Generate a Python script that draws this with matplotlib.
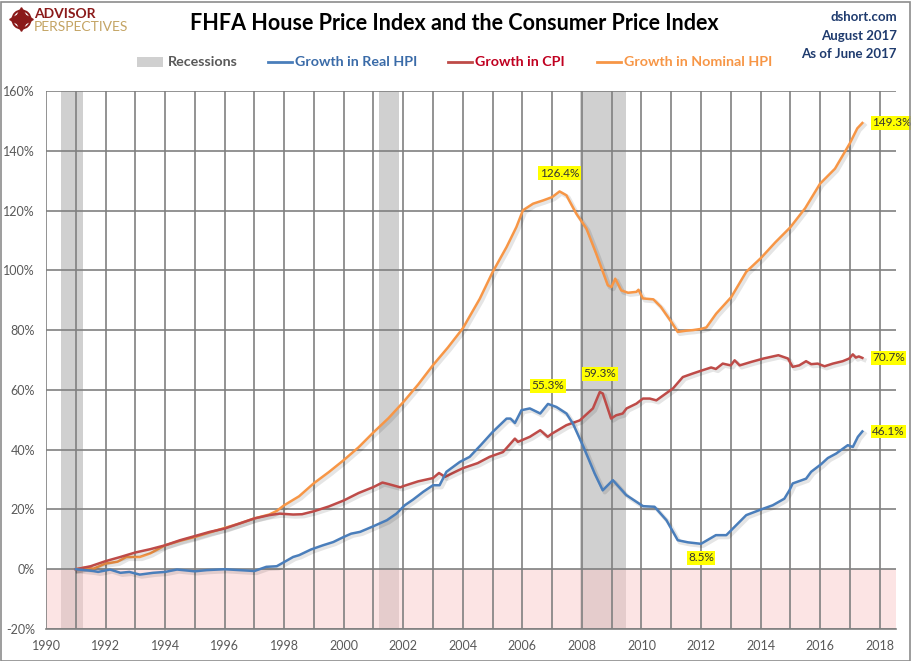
import matplotlib
matplotlib.use("Agg")
import matplotlib.pyplot as plt
import matplotlib.patheffects as pe
from matplotlib.lines import Line2D
from matplotlib.patches import Rectangle

# ---- data (decimal years) ----
nominal_x = [1991.0, 1991.3, 1991.6, 1992.0, 1992.4, 1992.7, 1993.15, 1993.5, 1994.0, 1994.5,
             1995.0, 1995.5, 1996.0, 1996.5, 1997.0, 1997.5, 1997.75, 1998.0, 1998.5, 1999.0,
             1999.5, 2000.0, 2000.5, 2001.0, 2001.5, 2002.0, 2002.5, 2003.0, 2003.5, 2004.0,
             2004.57, 2005.0, 2005.47, 2005.8, 2006.02, 2006.36, 2006.7, 2007.0, 2007.25, 2007.48,
             2007.81, 2008.15, 2008.48, 2008.87, 2008.99, 2009.12, 2009.32, 2009.55, 2009.83, 2009.9,
             2010.05, 2010.4, 2010.65, 2011.0, 2011.22, 2011.5, 2011.73, 2012.0, 2012.18, 2012.51,
             2013.02, 2013.52, 2014.02, 2014.5, 2015.0, 2015.5, 2016.0, 2016.5, 2017.0, 2017.25,
             2017.42]
nominal_y = [0.0, 0.5, 0.2, 1.9, 2.5, 4.1, 4.1, 5.3, 8.0, 9.5,
             10.8, 12.3, 13.8, 15.3, 17.0, 18.3, 19.5, 21.4, 24.4, 28.8,
             32.5, 36.5, 40.8, 45.8, 50.5, 55.9, 61.8, 68.3, 74.2, 80.6,
             90.5, 99.4, 107.8, 114.5, 120.1, 122.3, 123.4, 124.5, 126.4, 125.1,
             119.0, 114.0, 105.6, 95.0, 94.4, 97.2, 93.3, 92.5, 92.8, 93.5,
             90.6, 90.3, 87.8, 82.8, 79.4, 79.8, 80.0, 80.4, 80.9, 85.5,
             91.1, 99.5, 104.2, 109.4, 114.4, 120.8, 129.0, 134.0, 142.5, 147.5,
             149.3]

real_x = [1991.0, 1991.3, 1991.6, 1991.75, 1992.15, 1992.5, 1992.8, 1993.15, 1993.6, 1994.0,
          1994.4, 1995.0, 1995.4, 1996.0, 1996.5, 1997.0, 1997.4, 1997.75, 1998.0, 1998.3,
          1998.5, 1998.9, 1999.3, 1999.65, 2000.0, 2000.25, 2000.55, 2001.0, 2001.45, 2001.77,
          2002.05, 2002.33, 2002.67, 2003.0, 2003.22, 2003.45, 2003.9, 2004.23, 2004.6, 2005.0,
          2005.47, 2005.6, 2005.75, 2005.97, 2006.25, 2006.6, 2006.86, 2007.14, 2007.48, 2007.7,
          2008.05, 2008.43, 2008.7, 2009.04, 2009.49, 2010.05, 2010.44, 2010.84, 2011.22, 2011.56,
          2012.0, 2012.5, 2012.85, 2013.13, 2013.52, 2014.02, 2014.41, 2014.8, 2014.97, 2015.08,
          2015.53, 2015.7, 2016.03, 2016.26, 2016.54, 2016.93, 2017.1, 2017.27, 2017.42]
real_y = [0.0, -0.3, -0.6, -0.9, -0.1, -1.2, -0.9, -1.8, -1.2, -0.9,
          -0.1, -0.7, -0.3, 0.0, -0.3, -0.6, 0.8, 1.0, 2.4, 4.1,
          4.7, 6.6, 8.0, 9.1, 10.8, 11.9, 12.5, 14.4, 16.4, 18.6,
          21.4, 23.3, 25.9, 28.1, 28.1, 32.6, 35.9, 37.6, 41.5, 45.9,
          50.4, 50.4, 48.9, 53.2, 53.8, 52.1, 55.3, 54.3, 52.1, 48.7,
          41.0, 32.0, 26.4, 29.8, 24.8, 21.1, 20.9, 16.4, 9.7, 9.0,
          8.5, 11.4, 11.4, 14.2, 18.1, 20.0, 21.4, 23.6, 26.4, 28.7,
          30.3, 32.6, 35.1, 37.2, 38.7, 41.5, 40.9, 44.3, 46.1]

cpi_x = [1991.0, 1991.5, 1992.0, 1992.5, 1993.0, 1993.5, 1994.0, 1994.5, 1995.0, 1995.5,
         1996.0, 1996.5, 1997.0, 1997.5, 1997.85, 1998.3, 1998.6, 1999.0, 1999.5, 2000.0,
         2000.5, 2001.0, 2001.3, 2001.5, 2001.9, 2002.0, 2002.5, 2003.0, 2003.2, 2003.4,
         2004.0, 2004.5, 2004.9, 2005.35, 2005.75, 2005.85, 2006.25, 2006.6, 2006.85, 2007.0,
         2007.48, 2007.93, 2008.37, 2008.6, 2008.7, 2008.98, 2009.15, 2009.37, 2009.5, 2009.83,
         2010.05, 2010.28, 2010.5, 2011.06, 2011.39, 2011.73, 2012.06, 2012.34, 2012.5, 2012.73,
         2013.0, 2013.13, 2013.3, 2013.7, 2014.1, 2014.6, 2014.92, 2015.08, 2015.3, 2015.53,
         2015.7, 2015.92, 2016.15, 2016.43, 2016.76, 2016.98, 2017.1, 2017.2, 2017.3, 2017.42]
cpi_y = [0.0, 1.0, 2.7, 4.1, 5.6, 6.7, 8.0, 9.7, 11.1, 12.5,
         13.6, 15.3, 17.0, 18.1, 18.6, 18.3, 18.4, 19.4, 21.0, 23.0,
         25.5, 27.5, 29.0, 28.5, 27.4, 27.8, 29.4, 30.5, 32.2, 30.9,
         33.8, 35.5, 37.6, 39.2, 43.7, 42.6, 44.3, 46.5, 44.3, 45.4,
         48.2, 49.8, 53.8, 59.3, 58.8, 50.4, 51.5, 52.1, 53.8, 55.4,
         57.1, 57.1, 56.5, 60.5, 64.3, 65.5, 66.6, 67.5, 67.0, 68.8,
         68.2, 69.9, 68.2, 69.4, 70.5, 71.6, 70.5, 67.7, 68.2, 69.6,
         68.6, 68.8, 67.9, 68.8, 69.6, 70.5, 71.9, 70.8, 71.2, 70.7]

recessions = [(1990.5, 1991.25), (2001.17, 2001.87), (2007.92, 2009.48)]
year_ticks = list(range(1990, 2019, 2))
pct_ticks = list(range(-20, 161, 20))

# callouts: (x, y, text) in data units
callouts = [(2007.25, 126.4, "126.4%"), (2006.86, 55.3, "55.3%"), (2008.6, 59.3, "59.3%"),
            (2012.0, 8.5, "8.5%"), (2017.42, 149.3, "149.3%"), (2017.42, 70.7, "70.7%"),
            (2017.42, 46.1, "46.1%")]

BLUE = "#4A7EBB"
RED = "#BE4B48"
ORANGE = "#F79646"
GRID = "#808080"
TXT = "#595959"
FONT = ["Lato", "DejaVu Sans"]

plt.rcParams["font.family"] = FONT

W, H = 911, 661
fig = plt.figure(figsize=(W / 100, H / 100), dpi=100)


def px(x, y):
    return (x / W, 1 - y / H)


ax = fig.add_axes([46 / W, 1 - 629 / H, (896 - 46) / W, (629 - 91) / H])
ax.set_xlim(1990, 2018.55)
ax.set_ylim(-20, 160)

for a, b in recessions:
    ax.axvspan(a, b, color="#D0D0D0", zorder=0, lw=0)
ax.axhspan(-20, 0, color="#FBCACA", alpha=0.5, zorder=0.5, lw=0)

ax.set_xticks(range(1990, 2019))
ax.set_xticklabels([str(y) if y in year_ticks else "" for y in range(1990, 2019)])
ax.set_yticks(pct_ticks)
ax.set_yticklabels([f"{v}%" for v in pct_ticks])
ax.grid(True, color=GRID, lw=1.2, zorder=1)
ax.set_axisbelow(True)
ax.tick_params(length=0, labelsize=9, colors=TXT, pad=8)
for s in ["top", "right", "left"]:
    ax.spines[s].set_visible(False)
ax.spines["bottom"].set_color(GRID)
ax.spines["bottom"].set_linewidth(1.2)

shadow = [pe.SimpleLineShadow(offset=(1.5, -1.5), shadow_color="#000000", alpha=0.1, linewidth=3),
          pe.Normal()]
ax.plot(nominal_x, nominal_y, color=ORANGE, lw=1.8, zorder=3, path_effects=shadow)
ax.plot(cpi_x, cpi_y, color=RED, lw=1.8, zorder=3, path_effects=shadow)
ax.plot(real_x, real_y, color=BLUE, lw=1.8, zorder=3, path_effects=shadow)

box = dict(boxstyle="square,pad=0.12", fc="#FFFF00", ec="none")
for x, y, t in callouts:
    if x > 2017:
        ax.annotate(t, (x, y), xytext=(7, 0), textcoords="offset points", ha="left", va="center",
                    fontsize=8.5, color="#333333", bbox=box, zorder=5)
    elif t == "8.5%":
        ax.annotate(t, (x, y), xytext=(0, -10), textcoords="offset points", ha="center", va="center",
                    fontsize=8.5, color="#333333", bbox=box, zorder=5)
    else:
        ax.annotate(t, (x, y), xytext=(0, 13), textcoords="offset points", ha="center", va="center",
                    fontsize=8.5, color="#333333", bbox=box, zorder=5)

# title and header texts
fig.text(*px(454, 23), "FHFA House Price Index and the Consumer Price Index", ha="center", va="center",
         fontsize=15.5, fontweight="bold", color="#000000")
for yy, t in [(17, "dshort.com"), (36, "August 2017"), (54, "As of June 2017")]:
    fig.text(*px(897, yy), t, ha="right", va="center", fontsize=9.5, fontweight="bold", color="#1F3B6E")

# legend
fig.patches.append(Rectangle(px(137, 67), 26 / W, 10 / H, transform=fig.transFigure, fc="#D0D0D0", ec="none"))
fig.text(*px(168, 62), "Recessions", ha="left", va="center", fontsize=10.3, fontweight="bold", color=TXT)
for x0, col, tcol, t in [(268, BLUE, "#3A6BA8", "Growth in Real HPI"),
                         (448, RED, "#C00020", "Growth in CPI"),
                         (597, ORANGE, ORANGE, "Growth in Nominal HPI")]:
    fig.lines.append(Line2D([x0 / W, (x0 + 24) / W], [1 - 62 / H] * 2, transform=fig.transFigure,
                            color=col, lw=2))
    fig.text(*px(x0 + 27, 62), t, ha="left", va="center", fontsize=10.3, fontweight="bold", color=tcol)

# logo
fig.lines.append(Line2D([21 / W], [1 - 19 / H], transform=fig.transFigure, marker="o", ms=13,
                        mfc="none", mec="#8B1A1A", mew=1.5))
fig.lines.append(Line2D([21 / W], [1 - 19 / H], transform=fig.transFigure, marker=(4, 1, 0), ms=17,
                        mfc="#8B1A1A", mec="#8B1A1A"))
fig.text(*px(34, 14), "ADVISOR", ha="left", va="center", fontsize=10, fontweight="bold", color="#8B1A1A")
fig.text(*px(34, 27), "PERSPECTIVES", ha="left", va="center", fontsize=10, color="#C4A464")

# outer border
fig.patches.append(Rectangle((0.5 / W, 0.5 / H), (W - 2) / W, (H - 2) / H, transform=fig.transFigure,
                             fc="none", ec="#8C8C8C", lw=1.2))

fig.savefig("out.png", dpi=100)
